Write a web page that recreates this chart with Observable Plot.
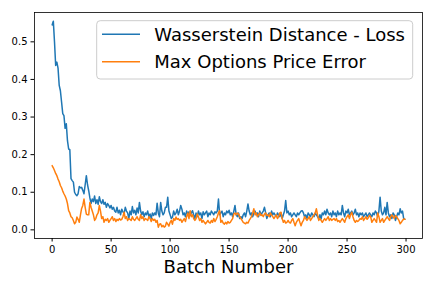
<!DOCTYPE html>
<html><head><meta charset="utf-8">
<script src="https://cdn.jsdelivr.net/npm/d3@7"></script>
<script src="https://cdn.jsdelivr.net/npm/@observablehq/plot@0.6"></script>
<style>body{margin:0;background:#fff} svg{display:block}</style>
</head><body><div id="chart"></div>
<script>
const wassersteinLoss = [
0.545,0.555,0.50,0.437,0.446,0.43,0.384,0.37,0.34,0.309,
0.304,0.27,0.282,0.237,0.215,0.213,0.136,0.131,0.127,0.10,
0.094,0.091,0.096,0.115,0.112,0.113,0.105,0.096,0.12,0.144,
0.12,0.104,0.085,0.07,0.082,0.075,0.09,0.07,0.08,0.068,
0.088,0.075,0.07,0.08,0.068,0.073,0.06,0.07,0.065,0.058,
0.065,0.055,0.06,0.05,0.047,0.06,0.045,0.052,0.04,0.055,
0.048,0.043,0.06,0.05,0.045,0.03,0.05,0.04,0.062,0.045,
0.052,0.04,0.058,0.045,0.073,0.05,0.04,0.048,0.035,0.045,
0.04,0.05,0.035,0.042,0.03,0.045,0.038,0.045,0.04,0.071,
0.045,0.035,0.073,0.05,0.04,0.045,0.06,0.06,0.087,0.05,
0.04,0.03,0.034,0.05,0.04,0.045,0.055,0.04,0.05,0.065,
0.055,0.04,0.045,0.035,0.05,0.042,0.048,0.038,0.045,0.051,
0.04,0.03,0.045,0.035,0.05,0.04,0.045,0.03,0.048,0.04,
0.045,0.05,0.035,0.045,0.04,0.05,0.045,0.04,0.048,0.045,
0.05,0.082,0.04,0.045,0.05,0.035,0.045,0.04,0.05,0.045,
0.052,0.04,0.045,0.035,0.05,0.065,0.04,0.035,0.045,0.03,
0.035,0.03,0.04,0.045,0.035,0.05,0.069,0.05,0.04,0.045,
0.035,0.045,0.05,0.04,0.045,0.035,0.05,0.04,0.045,0.05,
0.06,0.045,0.03,0.04,0.045,0.035,0.05,0.04,0.045,0.04,
0.035,0.045,0.04,0.035,0.045,0.03,0.04,0.05,0.078,0.045,
0.05,0.04,0.045,0.035,0.04,0.045,0.04,0.035,0.045,0.04,
0.045,0.05,0.051,0.045,0.035,0.04,0.03,0.045,0.04,0.035,
0.045,0.04,0.035,0.045,0.04,0.035,0.03,0.04,0.029,0.045,
0.04,0.05,0.04,0.055,0.045,0.04,0.045,0.035,0.05,0.04,
0.045,0.035,0.05,0.04,0.045,0.04,0.065,0.045,0.035,0.05,
0.045,0.055,0.04,0.045,0.05,0.04,0.045,0.055,0.04,0.045,
0.035,0.045,0.04,0.045,0.035,0.04,0.045,0.035,0.04,0.045,
0.04,0.035,0.045,0.04,0.05,0.045,0.035,0.05,0.087,0.05,
0.04,0.045,0.06,0.04,0.073,0.045,0.035,0.04,0.03,0.045,
0.04,0.025,0.035,0.045,0.04,0.056,0.045,0.05,0.03,0.028
];
const maxPriceError = [
0.171,0.165,0.158,0.15,0.144,0.135,0.128,0.118,0.112,0.103,
0.096,0.09,0.082,0.07,0.051,0.045,0.035,0.032,0.025,0.016,
0.02,0.034,0.028,0.02,0.04,0.057,0.065,0.082,0.06,0.042,
0.04,0.04,0.073,0.06,0.05,0.04,0.025,0.03,0.04,0.045,
0.065,0.05,0.03,0.035,0.02,0.028,0.025,0.03,0.02,0.025,
0.03,0.035,0.025,0.03,0.022,0.028,0.025,0.03,0.026,0.028,
0.035,0.047,0.03,0.035,0.025,0.03,0.028,0.025,0.035,0.028,
0.025,0.03,0.035,0.028,0.025,0.04,0.03,0.035,0.025,0.03,
0.028,0.025,0.035,0.03,0.022,0.03,0.025,0.028,0.02,0.025,
0.007,0.015,0.016,0.008,0.012,0.007,0.01,0.02,0.015,0.01,
0.02,0.025,0.015,0.03,0.025,0.034,0.028,0.03,0.025,0.028,
0.02,0.025,0.03,0.022,0.035,0.045,0.03,0.051,0.035,0.04,
0.03,0.025,0.03,0.042,0.035,0.025,0.03,0.02,0.025,0.02,
0.016,0.02,0.025,0.02,0.018,0.025,0.02,0.03,0.022,0.028,
0.035,0.045,0.051,0.02,0.025,0.018,0.015,0.02,0.016,0.022,
0.018,0.02,0.025,0.03,0.042,0.045,0.04,0.045,0.042,0.035,
0.03,0.025,0.02,0.018,0.016,0.02,0.018,0.025,0.03,0.035,
0.045,0.056,0.04,0.045,0.035,0.04,0.045,0.038,0.04,0.035,
0.042,0.045,0.038,0.04,0.035,0.045,0.04,0.035,0.03,0.035,
0.04,0.03,0.035,0.045,0.047,0.03,0.02,0.025,0.018,0.02,
0.025,0.02,0.018,0.025,0.03,0.02,0.011,0.02,0.025,0.03,
0.02,0.011,0.02,0.025,0.035,0.03,0.025,0.03,0.035,0.025,
0.03,0.035,0.04,0.045,0.056,0.04,0.025,0.03,0.025,0.02,
0.025,0.03,0.025,0.03,0.035,0.025,0.03,0.025,0.028,0.03,
0.025,0.03,0.022,0.025,0.02,0.025,0.03,0.025,0.02,0.03,
0.035,0.04,0.03,0.04,0.047,0.035,0.025,0.02,0.025,0.022,
0.025,0.03,0.028,0.035,0.025,0.03,0.035,0.028,0.032,0.038,
0.035,0.02,0.025,0.03,0.025,0.02,0.045,0.035,0.02,0.025,
0.03,0.02,0.025,0.03,0.035,0.03,0.025,0.035,0.04,0.035,
0.03,0.038,0.035,0.03,0.025,0.016,0.02,0.025,0.029,0.028
];
const seriesNames = ["Wasserstein Distance - Loss", "Max Options Price Error"];
const seriesColors = ["#1f77b4", "#ff7f0e"];
const xTicks = [0, 50, 100, 150, 200, 250, 300];
const yTicks = [0, 0.1, 0.2, 0.3, 0.4, 0.5];
const xLabel = "Batch Number";

const data = [];
wassersteinLoss.forEach((v, i) => data.push({batch: i, value: v, series: seriesNames[0]}));
maxPriceError.forEach((v, i) => data.push({batch: i, value: v, series: seriesNames[1]}));

const chart = Plot.plot({
  width: 432, height: 288,
  marginLeft: 34, marginRight: 10, marginTop: 12, marginBottom: 50,
  style: {fontFamily: "DejaVu Sans", fontSize: "10px", color: "#000", background: "#fff"},
  x: {domain: [-14.95, 313.95], ticks: xTicks, tickSize: 3.5, tickPadding: 3.5, label: null},
  y: {domain: [-0.023, 0.578], ticks: yTicks, tickFormat: d3.format(".1f"), tickSize: 3.5, tickPadding: 3.5, label: null},
  color: {domain: seriesNames, range: seriesColors},
  marks: [
    Plot.line(data, {x: "batch", y: "value", stroke: "series", strokeWidth: 1.5, clip: true}),
    Plot.frame({stroke: "#000", strokeWidth: 0.8}),
    Plot.text([xLabel], {frameAnchor: "bottom", lineAnchor: "bottom", dy: 34, fontSize: 18, fill: "#000", text: d => d})
  ]
});
document.getElementById("chart").appendChild(chart);

// legend inside axes, top right
const svg = d3.select(chart);
const lg = svg.append("g").attr("font-family", "DejaVu Sans").attr("text-anchor", "start");
lg.append("rect").attr("x", 96.7).attr("y", 20.7).attr("width", 316).attr("height", 58.3)
  .attr("rx", 3.5).attr("fill", "#fff").attr("fill-opacity", 0.8).attr("stroke", "#cccccc").attr("stroke-width", 1);
seriesNames.forEach((name, i) => {
  const y = 34.3 + i * 27.4;
  lg.append("line").attr("x1", 102).attr("x2", 140).attr("y1", y).attr("y2", y)
    .attr("stroke", seriesColors[i]).attr("stroke-width", 1.5);
  lg.append("text").attr("x", 154.3).attr("y", y + 6.4).attr("font-size", 18)
    .attr("text-anchor", "start").attr("fill", "#000").text(name);
});
</script>
</body></html>
